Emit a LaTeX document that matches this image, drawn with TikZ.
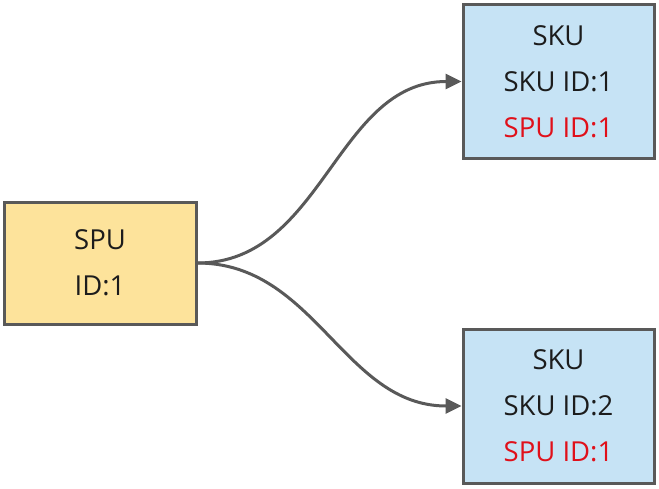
\documentclass[tikz,border=0pt]{standalone}
\usepackage{fontspec}
\setmainfont{Open Sans}
\usepackage{tikz}
\usetikzlibrary{arrows.meta}

\definecolor{spuyellow}{HTML}{FDE39B}
\definecolor{skublue}{HTML}{C6E3F5}
\definecolor{boxgray}{HTML}{595959}
\definecolor{idred}{HTML}{E0101A}
\definecolor{textdark}{HTML}{1C1C1C}

\tikzset{
  box/.style={draw=boxgray, line width=3pt, inner sep=0pt, align=center,
    text=textdark, font=\fontsize{27.5}{46}\selectfont},
  spubox/.style={box, fill=spuyellow, minimum width=192pt, minimum height=122pt},
  skubox/.style={box, fill=skublue, minimum width=191pt, minimum height=154pt},
  link/.style={draw=boxgray, line width=3pt, -{Triangle[length=16pt,width=15pt]}}
}

\begin{document}
\begin{tikzpicture}[x=1pt,y=-1pt]
  \useasboundingbox (0,0) rectangle (659,488);

  % SPU box
  \node[spubox] (spu) at (100,263) {SPU\\ID:1};

  % SKU boxes
  \node[skubox] (sku1) at (558.5,81.5) {SKU\\SKU ID:1\\\textcolor{idred}{SPU ID:1}};
  \node[skubox] (sku2) at (558.5,406) {SKU\\SKU ID:2\\\textcolor{idred}{SPU ID:1}};

  \draw[link] (spu.east) to [out=0, in=180] (sku1.west);
  \draw[link] (spu.east) to [out=0, in=180] (sku2.west);
\end{tikzpicture}
\end{document}
